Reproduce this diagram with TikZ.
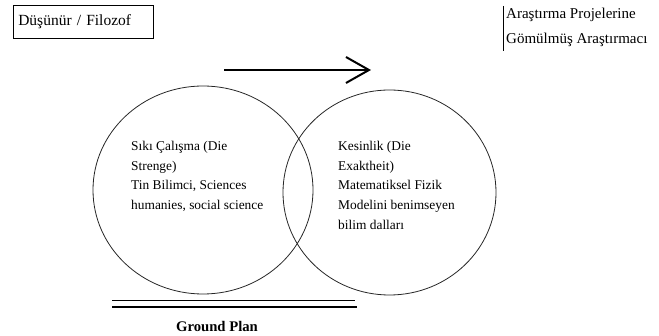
\documentclass[tikz,border=0pt]{standalone}
\usepackage{fontspec}
\setmainfont{Liberation Serif}
\usetikzlibrary{arrows.meta,shapes.geometric}
\tikzset{
  ring/.style={draw=black!85, line width=0.8pt},
  bodytext/.style={anchor=north west, align=left, inner sep=0pt, font=\fontsize{13.4}{19.7}\selectfont},
  toptext/.style={font=\fontsize{15}{25}\selectfont, inner sep=0pt},
}
\begin{document}
\begin{tikzpicture}[x=1pt,y=-1pt]
\useasboundingbox (0,0) rectangle (659,336);
% top left box
\node[draw, line width=0.6pt, anchor=north west, minimum width=140pt, minimum height=33pt, text width=130pt, align=left, inner xsep=5pt, inner ysep=0pt, font=\fontsize{15.5}{18}\selectfont] (phil) at (13,5) {Düşünür / Filozof};
% top right label
\node[toptext, anchor=north west, align=left] (res) at (506,8) {Araştırma Projelerine\\Gömülmüş Araştırmacı};
\coordinate (barT) at (503,6);
\coordinate (barB) at (503,51);
\draw[line width=1pt] (barT) -- (barB);
% arrow
\coordinate (arrA) at (224,70);
\coordinate (arrB) at (371,70);
\draw[line width=2pt, -{Straight Barb[length=23pt, width=26pt, line width=2pt]}] (arrA) -- (arrB);
% circles
\node[ring, ellipse, minimum width=220pt, minimum height=208pt, inner sep=0pt] (left) at (203,190) {};
\node[ring, ellipse, minimum width=213pt, minimum height=205pt, inner sep=0pt] (right) at (389.5,192.5) {};
\node[bodytext] (ltext) at (131,141) {Sıkı Çalışma (Die\\Strenge)\\Tin Bilimci, Sciences\\humanies, social science};
\node[bodytext] (rtext) at (338,141) {Kesinlik (Die\\Exaktheit)\\Matematiksel Fizik\\Modelini benimseyen\\bilim dalları};
% ground plan
\coordinate (g1a) at (112,300);
\coordinate (g1b) at (355,300);
\coordinate (g2a) at (112,307);
\coordinate (g2b) at (357,307);
\draw[line width=0.9pt] (g1a) -- (g1b);
\draw[line width=2.6pt] (g2a) -- (g2b);
\node[anchor=base, inner sep=0pt, font=\fontsize{14.7}{17}\selectfont\bfseries] (gp) at (217,332) {Ground Plan};
\end{tikzpicture}
\end{document}
